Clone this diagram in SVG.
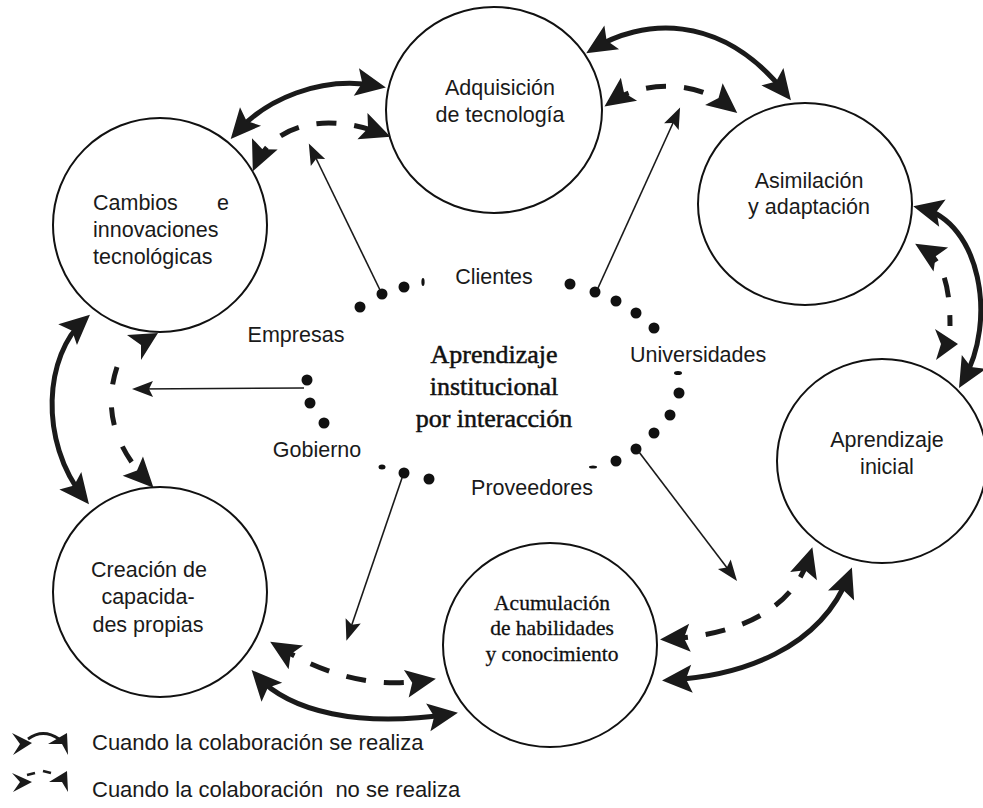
<svg xmlns="http://www.w3.org/2000/svg" width="983" height="808" viewBox="0 0 983 808">
  <style>
    .ring { fill: #fff; stroke: #111; stroke-width: 2; }
    .lbl { font-family: "Liberation Sans", Arial, sans-serif; font-size: 21.5px; fill: #1a1a1a; }
    .mid { text-anchor: middle; }
    .ctr { font-family: "Liberation Serif", "Times New Roman", serif; font-size: 26px; fill: #111; stroke: #111; stroke-width: 0.5; text-anchor: middle; }
    .acu { font-family: "Liberation Serif", "Times New Roman", serif; font-size: 21.5px; fill: #111; stroke: #111; stroke-width: 0.3; text-anchor: middle; }
    .leg { font-family: "Liberation Sans", Arial, sans-serif; font-size: 22px; fill: #1a1a1a; }
    .solid { fill: none; stroke: #1a1a1a; stroke-width: 5; marker-start: url(#hd); marker-end: url(#hd); }
    .dash { fill: none; stroke: #1a1a1a; stroke-width: 5; stroke-dasharray: 20 18; marker-start: url(#hd); marker-end: url(#hd); }
    .thin { fill: none; stroke: #1a1a1a; stroke-width: 1.6; marker-end: url(#hs); }
    .dot { fill: #111; }
    .head { fill: #1a1a1a; }
  </style>
  <defs>
    <marker id="hd" viewBox="-26 -16 36 32" refX="0" refY="0" markerWidth="36" markerHeight="32" markerUnits="userSpaceOnUse" orient="auto-start-reverse">
      <path d="M8,0 L-22,-14 L-16,0 L-22,14 Z" fill="#1a1a1a"/>
    </marker>
    <marker id="hs" viewBox="-20 -10 26 20" refX="0" refY="0" markerWidth="26" markerHeight="20" markerUnits="userSpaceOnUse" orient="auto">
      <path d="M5,0 L-16,-8 L-12,0 L-16,8 Z" fill="#1a1a1a"/>
    </marker>
  </defs>

  <rect width="983" height="808" fill="#fff"/>

  <!-- stage nodes -->
  <g id="node-adquisicion">
    <ellipse class="ring" cx="494" cy="110" rx="108" ry="103"/>
    <text class="lbl mid" x="500" y="95">Adquisición</text>
    <text class="lbl mid" x="500" y="122">de tecnología</text>
  </g>
  <g id="node-asimilacion">
    <ellipse class="ring" cx="805" cy="204" rx="107" ry="101"/>
    <text class="lbl mid" x="809" y="188">Asimilación</text>
    <text class="lbl mid" x="809" y="214">y adaptación</text>
  </g>
  <g id="node-cambios">
    <ellipse class="ring" cx="160" cy="225" rx="107" ry="107"/>
    <text class="lbl" x="93" y="210">Cambios</text>
    <text class="lbl" x="229" y="210" text-anchor="end">e</text>
    <text class="lbl" x="93" y="237">innovaciones</text>
    <text class="lbl" x="93" y="264">tecnológicas</text>
  </g>
  <g id="node-aprendizaje-inicial">
    <ellipse class="ring" cx="882" cy="461" rx="105" ry="102"/>
    <text class="lbl mid" x="887" y="447">Aprendizaje</text>
    <text class="lbl mid" x="887" y="474">inicial</text>
  </g>
  <g id="node-creacion">
    <ellipse class="ring" cx="160" cy="592" rx="107" ry="105"/>
    <text class="lbl mid" x="149" y="577">Creación de</text>
    <text class="lbl mid" x="148" y="604">capacida-</text>
    <text class="lbl mid" x="148" y="632">des propias</text>
  </g>
  <g id="node-acumulacion">
    <ellipse class="ring" cx="550" cy="645" rx="107" ry="102"/>
    <text class="acu" x="552" y="610">Acumulación</text>
    <text class="acu" x="552" y="635">de habilidades</text>
    <text class="acu" x="552" y="661">y conocimiento</text>
  </g>

  <!-- central dotted ring with its actors -->
  <g id="node-central">
    <circle class="dot" cx="360" cy="307" r="5.5"/>
    <circle class="dot" cx="382" cy="294" r="5.5"/>
    <circle class="dot" cx="404" cy="287" r="5.5"/>
    <ellipse class="dot" cx="423" cy="282" rx="1.6" ry="4"/>
    <circle class="dot" cx="570" cy="284" r="5.5"/>
    <circle class="dot" cx="595" cy="292" r="5.5"/>
    <circle class="dot" cx="616" cy="301" r="5.5"/>
    <circle class="dot" cx="636" cy="313" r="5.5"/>
    <circle class="dot" cx="654" cy="328" r="5.5"/>
    <ellipse class="dot" cx="678" cy="373" rx="4" ry="2"/>
    <circle class="dot" cx="679" cy="393" r="5.5"/>
    <circle class="dot" cx="670" cy="415" r="5.5"/>
    <circle class="dot" cx="654" cy="433" r="5.5"/>
    <circle class="dot" cx="636" cy="449" r="5.5"/>
    <circle class="dot" cx="616" cy="461" r="5.5"/>
    <ellipse class="dot" cx="593" cy="467" rx="4" ry="1.5"/>
    <circle class="dot" cx="429" cy="479" r="5.5"/>
    <circle class="dot" cx="404" cy="473" r="5.5"/>
    <ellipse class="dot" cx="382" cy="467" rx="3.5" ry="2.5"/>
    <circle class="dot" cx="307" cy="380" r="5.5"/>
    <circle class="dot" cx="310" cy="403" r="5.5"/>
    <circle class="dot" cx="324" cy="423" r="5.5"/>

    <text class="ctr" x="494" y="363">Aprendizaje</text>
    <text class="ctr" x="494" y="395">institucional</text>
    <text class="ctr" x="494" y="427">por interacción</text>

    <text class="lbl mid" x="494" y="284">Clientes</text>
    <text class="lbl mid" x="296" y="342">Empresas</text>
    <text class="lbl" x="630" y="362">Universidades</text>
    <text class="lbl mid" x="317" y="457">Gobierno</text>
    <text class="lbl mid" x="532" y="495">Proveedores</text>
  </g>

  <!-- connectors -->
  <g id="connectors">
    <!-- Cambios / Adquisición -->
    <path class="solid" d="M236,133 C265,100 320,75 378,86"/>
    <path class="dash" d="M256,164 C270,132 315,108 383,134"/>
    <!-- Adquisición / Asimilación -->
    <path class="solid" d="M593,49 C640,20 720,10 786,94"/>
    <path class="dash" d="M611,102 C635,85 690,75 731,108"/>
    <!-- Asimilación / Aprendizaje inicial -->
    <path class="solid" d="M921,208 C980,222 998,320 963,381"/>
    <path class="dash" d="M922,248 C945,262 950,290 950,326" style="marker-end:none"/>
    <polygon class="head" points="958,344 935,329 941,344 936,360"/>
    <!-- Cambios / Creación -->
    <path class="solid" d="M84,320 C45,355 38,440 84,498"/>
    <path class="dash" d="M117,367 C106,400 108,440 148,482" style="marker-start:none; stroke-dasharray:18 23"/>
    <polygon class="head" points="127,335 158,333 141,360 141,345"/>
    <!-- Creación / Acumulación -->
    <path class="dash" d="M277,646 C320,672 370,690 428,680"/>
    <path class="solid" d="M257,676 C290,712 360,728 450,714"/>
    <!-- Acumulación / Aprendizaje inicial -->
    <path class="dash" d="M668,639 C720,636 790,620 810,555"/>
    <path class="solid" d="M670,680 C740,676 820,650 849,575"/>
    <!-- actors toward the stages -->
    <path class="thin" d="M380,290 L311,148"/>
    <path class="thin" d="M598,288 L678,112"/>
    <path class="thin" d="M304,388 L137,389"/>
    <path class="thin" d="M402,478 L348,636"/>
    <path class="thin" d="M639,452 L734,577"/>
  </g>

  <!-- key -->
  <g id="legend">
    <polygon class="head" points="12,733 32,743 13,755 20,744"/>
    <path d="M28,739 Q43,728 59,739" fill="none" stroke="#1a1a1a" stroke-width="2.8"/>
    <polygon class="head" points="48,744 67,733 68,755 62,744"/>
    <text class="leg" x="92" y="750">Cuando la colaboración se realiza</text>

    <polygon class="head" points="12,773 32,782 13,792 20,782"/>
    <path d="M27,775 L35,773" fill="none" stroke="#1a1a1a" stroke-width="2.8"/>
    <path d="M43,771 L51,773" fill="none" stroke="#1a1a1a" stroke-width="2.8"/>
    <polygon class="head" points="49,782 67,771 68,792 62,782"/>
    <text class="leg" x="92" y="797" xml:space="preserve">Cuando la colaboración  no se realiza</text>
  </g>
</svg>
